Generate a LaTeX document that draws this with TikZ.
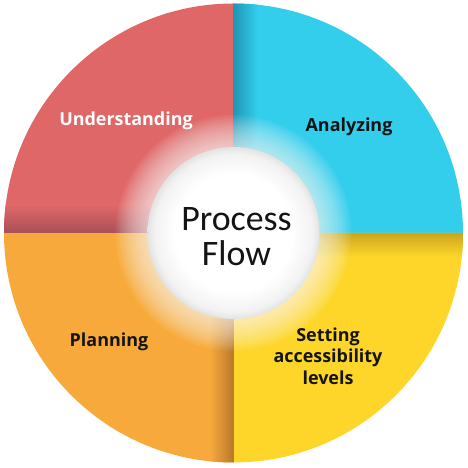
\documentclass[tikz,border=0pt]{standalone}
\usepackage{fontspec}
\setmainfont{Open Sans}
\newfontfamily\hubfont{Carlito}
\definecolor{qred}{RGB}{224,103,104}
\definecolor{qreddark}{RGB}{168,80,88}
\definecolor{qcyan}{RGB}{51,206,236}
\definecolor{qcyandark}{RGB}{32,150,180}
\definecolor{qorange}{RGB}{247,170,59}
\definecolor{qorangedark}{RGB}{185,120,45}
\definecolor{qyellow}{RGB}{253,214,41}
\definecolor{qyellowdark}{RGB}{205,165,30}
\definecolor{txt}{RGB}{20,20,20}
\pgfdeclareradialshading{ballsh}{\pgfpointorigin}{color(0bp)=(white); color(17bp)=(white); color(23bp)=(black!5); color(25bp)=(black!11); color(50bp)=(black!11)}
\tikzset{
  lbl/.style={font=\fontsize{18}{21.5}\selectfont\bfseries, text=txt, align=center, inner sep=0pt, anchor=base},
  hubtxt/.style={font=\hubfont\fontsize{36}{35.7}\selectfont, text=txt, align=center, inner sep=0pt, anchor=base},
}
\begin{document}
\begin{tikzpicture}[x=1bp,y=1bp]
\useasboundingbox (-233.5,-235) rectangle (234.5,233);
% quadrants
\fill[qred] (0,0) -- (-229.5,0) arc (180:90:229.5) -- cycle;
\fill[qcyan] (0,0) -- (0,229.5) arc (90:0:229.5) -- cycle;
\fill[qyellow] (0,0) -- (229.5,0) arc (0:-90:229.5) -- cycle;
\fill[qorange] (0,0) -- (0,-229.5) arc (-90:-180:229.5) -- cycle;
% shadow bands
\begin{scope}
  \clip (0,0) -- (-229.5,0) arc (180:90:229.5) -- cycle;
  \shade[top color=qred, bottom color=qreddark] (-230,0) rectangle (0,28);
\end{scope}
\begin{scope}
  \clip (0,0) -- (0,229.5) arc (90:0:229.5) -- cycle;
  \shade[left color=qcyandark, right color=qcyan] (0,0) rectangle (24,230);
\end{scope}
\begin{scope}
  \clip (0,0) -- (229.5,0) arc (0:-90:229.5) -- cycle;
  \shade[top color=qyellowdark, bottom color=qyellow] (0,-24) rectangle (230,0);
\end{scope}
\begin{scope}
  \clip (0,0) -- (0,-229.5) arc (-90:-180:229.5) -- cycle;
  \shade[left color=qorange, right color=qorangedark] (-24,-230) rectangle (0,0);
\end{scope}
% glow
\foreach \r in {86,88,...,118} \fill[white, opacity=0.06] (0,0) circle (\r);
% hub
\node[circle, inner sep=0pt, minimum size=172bp, shading=ballsh] (hub) at (0,0) {};
\node[hubtxt] (hubtext) at (3,-32.7) {Process\\Flow};
% labels
\node[lbl, text=white] (understanding) at (-107.5,107) {Understanding};
\node[lbl] (analyzing) at (115.5,101.3) {Analyzing};
\node[lbl] (planning) at (-124.5,-113.7) {Planning};
\node[lbl] (setting) at (94.5,-151.3) {Setting\\accessibility\\levels};
\end{tikzpicture}
\end{document}
